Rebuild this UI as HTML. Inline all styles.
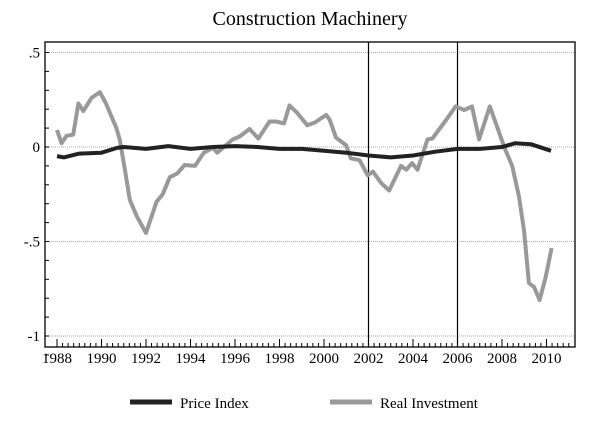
<!DOCTYPE html>
<html><head><meta charset="utf-8">
<style>
html,body{margin:0;padding:0;background:#fff;}
svg text{font-family:"Liberation Serif",serif;fill:#000;}
</style></head>
<body>
<svg id="chart" width="600" height="420" viewBox="0 0 600 420" xmlns="http://www.w3.org/2000/svg">
<text x="310" y="25" font-size="20" text-anchor="middle">Construction Machinery</text>
<g id="grid"></g>
<g id="axes"></g>
<g id="series"></g>
<g>
<line x1="130" y1="402" x2="172" y2="402" stroke="#222" stroke-width="5"/>
<text x="180" y="408" font-size="15">Price Index</text>
<line x1="330" y1="402" x2="372" y2="402" stroke="#999" stroke-width="5"/>
<text x="380" y="408" font-size="15">Real Investment</text>
</g>
</svg>
<script>
const yTicks=[0.5,0,-0.5,-1];
const yTickLabels=[".5","0","-.5","-1"];
const xTicks=[1988,1990,1992,1994,1996,1998,2000,2002,2004,2006,2008,2010];
const eventYears=[2002,2006];
const invYears=[1988.0,1988.2,1988.43,1988.73,1988.96,1989.18,1989.55,1989.93,1990.2,1990.67,1990.82,1991.05,1991.27,1991.6,1992.0,1992.47,1992.75,1993.07,1993.4,1993.74,1994.2,1994.6,1995.0,1995.2,1995.5,1995.9,1996.2,1996.65,1997.05,1997.55,1997.85,1998.2,1998.45,1998.8,1999.25,1999.6,2000.1,2000.25,2000.54,2000.99,2001.2,2001.6,2001.96,2002.2,2002.56,2002.93,2003.46,2003.7,2003.96,2004.2,2004.65,2004.87,2005.47,2005.92,2006.3,2006.65,2006.97,2007.45,2007.86,2008.1,2008.46,2008.76,2008.99,2009.21,2009.44,2009.69,2009.96,2010.23];
const invValues=[0.09,0.02,0.06,0.065,0.23,0.19,0.26,0.29,0.23,0.10,0.04,-0.12,-0.28,-0.37,-0.455,-0.29,-0.25,-0.16,-0.14,-0.095,-0.10,-0.03,-0.005,-0.03,0.0,0.04,0.055,0.095,0.045,0.135,0.135,0.125,0.22,0.18,0.115,0.13,0.17,0.145,0.05,0.01,-0.06,-0.07,-0.15,-0.13,-0.19,-0.23,-0.10,-0.12,-0.085,-0.12,0.04,0.045,0.14,0.215,0.195,0.215,0.04,0.215,0.08,0.0,-0.10,-0.26,-0.44,-0.72,-0.74,-0.81,-0.69,-0.535];
const priceYears=[1988,1988.3,1989,1990,1990.7,1991,1992,1993,1994,1995,1996,1997,1998,1999,2000,2001,2002,2003,2004,2005,2006,2007,2008,2008.6,2009.3,2010.2];
const priceValues=[-0.048,-0.055,-0.035,-0.03,-0.005,0,-0.01,0.005,-0.01,0,0.005,0,-0.01,-0.01,-0.02,-0.03,-0.045,-0.055,-0.045,-0.025,-0.01,-0.01,0,0.02,0.015,-0.02];

const NS="http://www.w3.org/2000/svg";
const L=45,R=575,T=42,B=347;
function sx(yr){return 57+(yr-1988)*22.25;}
function sy(v){return 147-v*189;}
function mk(tag,attrs,parent){const e=document.createElementNS(NS,tag);for(const k in attrs)e.setAttribute(k,attrs[k]);parent.appendChild(e);return e;}
const grid=document.getElementById('grid'),axes=document.getElementById('axes'),ser=document.getElementById('series');

yTicks.forEach((v,i)=>{
 const g=mk('line',{x1:L,x2:R,y1:sy(v),y2:sy(v),stroke:'#aaa','stroke-width':1,'stroke-dasharray':'1,1'},grid);
 
 
 const t=mk('text',{x:L-5,y:sy(v)+5,'font-size':15,'text-anchor':'end'},axes);
 t.textContent=yTickLabels[i];
 
 
});
for(let v=-1.1;v<=0.55;v+=0.1){
 const m=mk('line',{x1:L,x2:L+4,y1:sy(v),y2:sy(v),stroke:'#000','stroke-width':1},axes);
 
 
}
const box=mk('rect',{x:L,y:T,width:R-L,height:B-T,fill:'none',stroke:'#000','stroke-width':1.3},axes);


for(let q=1988;q<=2011;q+=0.25){
 const major=Math.abs(q-Math.round(q/2)*2)<1e-6;
 const tk=mk('line',{x1:sx(q),x2:sx(q),y1:B,y2:B-(major?8:4),stroke:'#000','stroke-width':1},axes);
 
 
}
xTicks.forEach(yr=>{
 const t=mk('text',{x:sx(yr),y:B+16,'font-size':15,'text-anchor':'middle'},axes);
 t.textContent=yr;
 
 
});
eventYears.forEach(yr=>{
 const l=mk('line',{x1:sx(yr),x2:sx(yr),y1:T,y2:B,stroke:'#000','stroke-width':1.2},axes);
 
 
});
function path(xs,vs){return xs.map((x,i)=>(i?'L':'M')+sx(x).toFixed(1)+','+sy(vs[i]).toFixed(1)).join('');}
const inv=mk('path',{d:path(invYears,invValues),fill:'none',stroke:'#999','stroke-width':4,'stroke-linejoin':'round'},ser);


const pr=mk('path',{d:path(priceYears,priceValues),fill:'none',stroke:'#222','stroke-width':4,'stroke-linejoin':'round'},ser);


</script>
</body></html>
